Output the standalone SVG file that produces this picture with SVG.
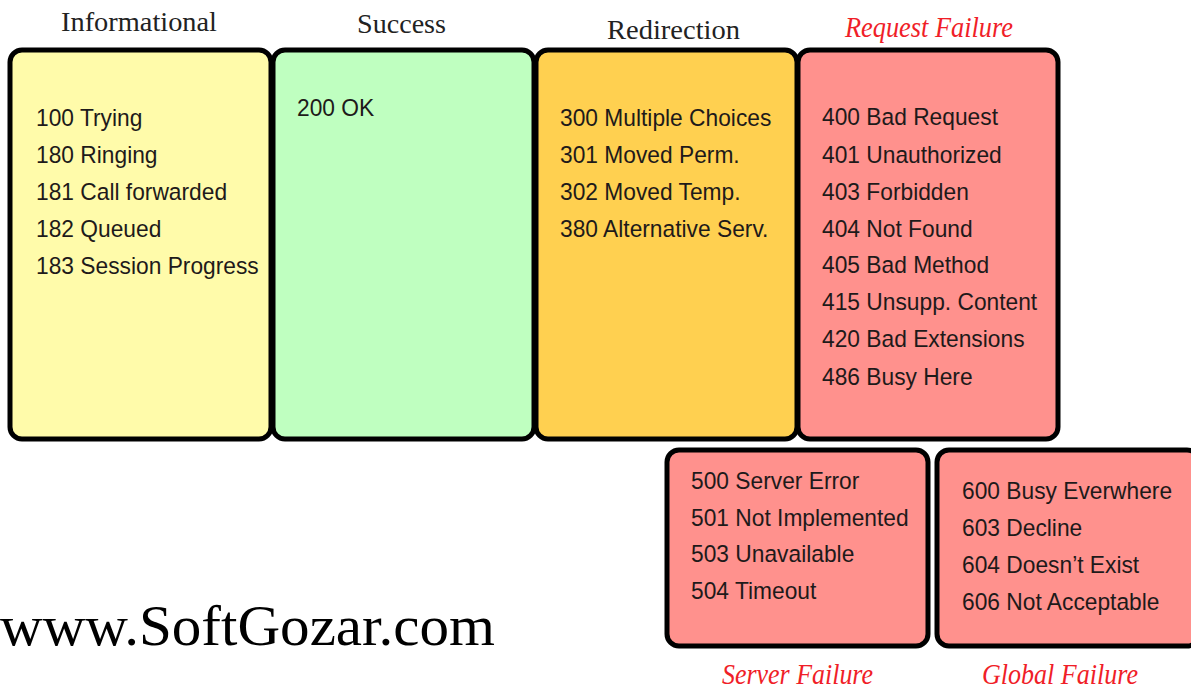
<svg xmlns="http://www.w3.org/2000/svg" width="1191" height="688" viewBox="0 0 1191 688">
<style>
.box{stroke:#000;stroke-width:5;}
.item{font-family:"Liberation Sans",Arial,sans-serif;font-size:24.5px;fill:#1e1a1a;}
.head{font-family:"Liberation Serif","Times New Roman",serif;font-size:28px;fill:#222;}
.red{font-family:"Liberation Serif","Times New Roman",serif;font-size:30px;font-style:italic;fill:#f01e28;}
.wm{font-family:"Liberation Serif","Times New Roman",serif;font-size:58px;fill:#000;}
</style>
<rect width="1191" height="688" fill="#fff"/>
<g id="informational">
<rect class="box" x="10" y="50" width="261" height="389" rx="12" fill="#fffbaa"/>
<text class="head" x="61" y="31" textLength="156" lengthAdjust="spacingAndGlyphs">Informational</text>
<g transform="translate(36,0) scale(0.93,1)">
<text class="item" x="0" y="126">100 Trying</text>
<text class="item" x="0" y="163">180 Ringing</text>
<text class="item" x="0" y="200">181 Call forwarded</text>
<text class="item" x="0" y="237">182 Queued</text>
<text class="item" x="0" y="274">183 Session Progress</text>
</g>
</g>
<g id="success">
<rect class="box" x="273" y="50" width="261" height="389" rx="12" fill="#bfffc0"/>
<text class="head" x="357" y="33" textLength="89" lengthAdjust="spacingAndGlyphs">Success</text>
<g transform="translate(297,0) scale(0.93,1)">
<text class="item" x="0" y="116">200 OK</text>
</g>
</g>
<g id="redirection">
<rect class="box" x="536" y="50" width="261" height="389" rx="12" fill="#ffd050"/>
<text class="head" x="607" y="39" textLength="133" lengthAdjust="spacingAndGlyphs">Redirection</text>
<g transform="translate(560,0) scale(0.93,1)">
<text class="item" x="0" y="126">300 Multiple Choices</text>
<text class="item" x="0" y="163">301 Moved Perm.</text>
<text class="item" x="0" y="200">302 Moved Temp.</text>
<text class="item" x="0" y="237">380 Alternative Serv.</text>
</g>
</g>
<g id="request-failure">
<rect class="box" x="798" y="50" width="260" height="389" rx="12" fill="#ff918d"/>
<text class="red" x="845" y="37" textLength="168" lengthAdjust="spacingAndGlyphs">Request Failure</text>
<g transform="translate(822,0) scale(0.93,1)">
<text class="item" x="0" y="125">400 Bad Request</text>
<text class="item" x="0" y="163">401 Unauthorized</text>
<text class="item" x="0" y="200">403 Forbidden</text>
<text class="item" x="0" y="237">404 Not Found</text>
<text class="item" x="0" y="273">405 Bad Method</text>
<text class="item" x="0" y="310">415 Unsupp. Content</text>
<text class="item" x="0" y="347">420 Bad Extensions</text>
<text class="item" x="0" y="385">486 Busy Here</text>
</g>
</g>
<g id="server-failure">
<rect class="box" x="667" y="450" width="261" height="196" rx="12" fill="#ff918d"/>
<text class="red" x="722" y="684" textLength="151" lengthAdjust="spacingAndGlyphs">Server Failure</text>
<g transform="translate(691,0) scale(0.93,1)">
<text class="item" x="0" y="489">500 Server Error</text>
<text class="item" x="0" y="526">501 Not Implemented</text>
<text class="item" x="0" y="562">503 Unavailable</text>
<text class="item" x="0" y="599">504 Timeout</text>
</g>
</g>
<g id="global-failure">
<rect class="box" x="937" y="450" width="262" height="196" rx="12" fill="#ff918d"/>
<text class="red" x="982" y="684" textLength="156" lengthAdjust="spacingAndGlyphs">Global Failure</text>
<g transform="translate(962,0) scale(0.93,1)">
<text class="item" x="0" y="499">600 Busy Everwhere</text>
<text class="item" x="0" y="536">603 Decline</text>
<text class="item" x="0" y="573">604 Doesn’t Exist</text>
<text class="item" x="0" y="610">606 Not Acceptable</text>
</g>
</g>
<g id="connectors"></g>
<text class="wm" x="0" y="645" textLength="495" lengthAdjust="spacingAndGlyphs">www.SoftGozar.com</text>
</svg>
